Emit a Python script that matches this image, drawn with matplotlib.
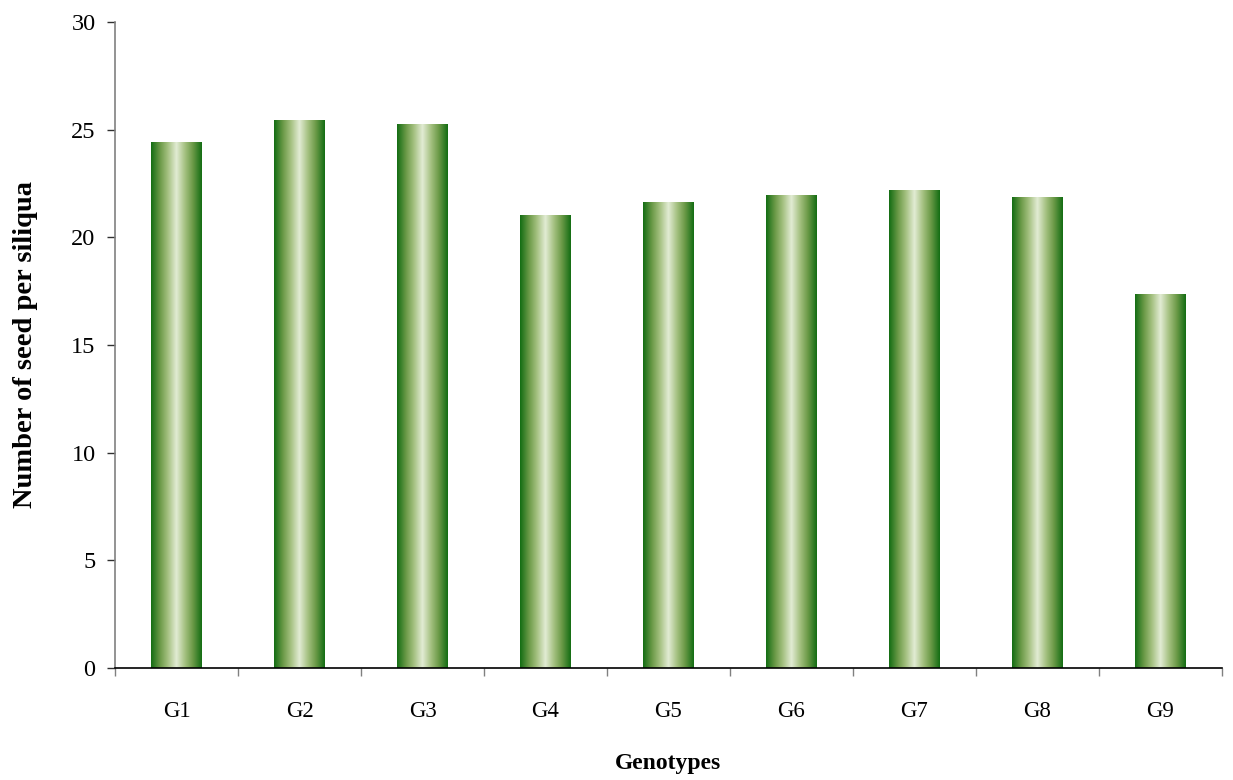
import numpy as np
import matplotlib
matplotlib.use("Agg")
import matplotlib.pyplot as plt
from matplotlib.colors import LinearSegmentedColormap
from matplotlib.ticker import FixedLocator

genotypes = ["G1", "G2", "G3", "G4", "G5", "G6", "G7", "G8", "G9"]
seeds_per_siliqua = [24.45, 25.43, 25.24, 21.02, 21.62, 21.95, 22.18, 21.85, 17.35]
y_ticks = [0, 5, 10, 15, 20, 25, 30]

plt.rcParams["font.family"] = ["Liberation Serif", "DejaVu Serif"]

fig = plt.figure(figsize=(12.33, 7.8), dpi=100)
ax = fig.add_axes([0.0933, 0.1436, 0.8977, 0.8282])

# horizontal green "cylinder" shading for each bar
bar_cmap = LinearSegmentedColormap.from_list(
    "cyl",
    [(0.0, "#136d13"), (0.18, "#6c9a48"), (0.33, "#a4c080"), (0.5, "#e2ecd4"),
     (0.67, "#a4c080"), (0.82, "#6c9a48"), (1.0, "#136d13")],
)
grad = np.linspace(0, 1, 256).reshape(1, -1)

x = np.arange(len(genotypes))
bars = ax.bar(x, seeds_per_siliqua, width=0.41, facecolor="none", edgecolor="none", zorder=2)
for b in bars:
    x0, y0, w, h = b.get_x(), b.get_y(), b.get_width(), b.get_height()
    im = ax.imshow(grad, cmap=bar_cmap, aspect="auto", extent=(x0, x0 + w, y0, y0 + h),
                   interpolation="bilinear", zorder=2)
    im.set_clip_path(b)

ax.set_xlim(-0.5, len(genotypes) - 0.5)
ax.set_ylim(0, 30)
ax.set_yticks(y_ticks)

ax.set_xticks(x)
ax.set_xticklabels(genotypes)
ax.xaxis.set_minor_locator(FixedLocator(np.arange(-0.5, len(genotypes), 1.0)))
ax.tick_params(axis="x", which="major", length=0, pad=24, labelsize=16.5)
ax.tick_params(axis="x", which="minor", length=6, width=1, color="#808080", direction="out")
ax.tick_params(axis="y", length=5.5, width=1, color="#303030", pad=8.5, labelsize=17.5)

for s in ("top", "right"):
    ax.spines[s].set_visible(False)
ax.spines["left"].set_color("#808080")
ax.spines["left"].set_linewidth(1.2)
ax.spines["bottom"].set_color("black")
ax.spines["bottom"].set_linewidth(1.2)

ax.set_xlabel("Genotypes", fontsize=17, fontweight="bold", labelpad=22)
ax.set_ylabel("Number of seed per siliqua", fontsize=20.5, fontweight="bold", labelpad=24)

fig.savefig("out.png", dpi=100)
